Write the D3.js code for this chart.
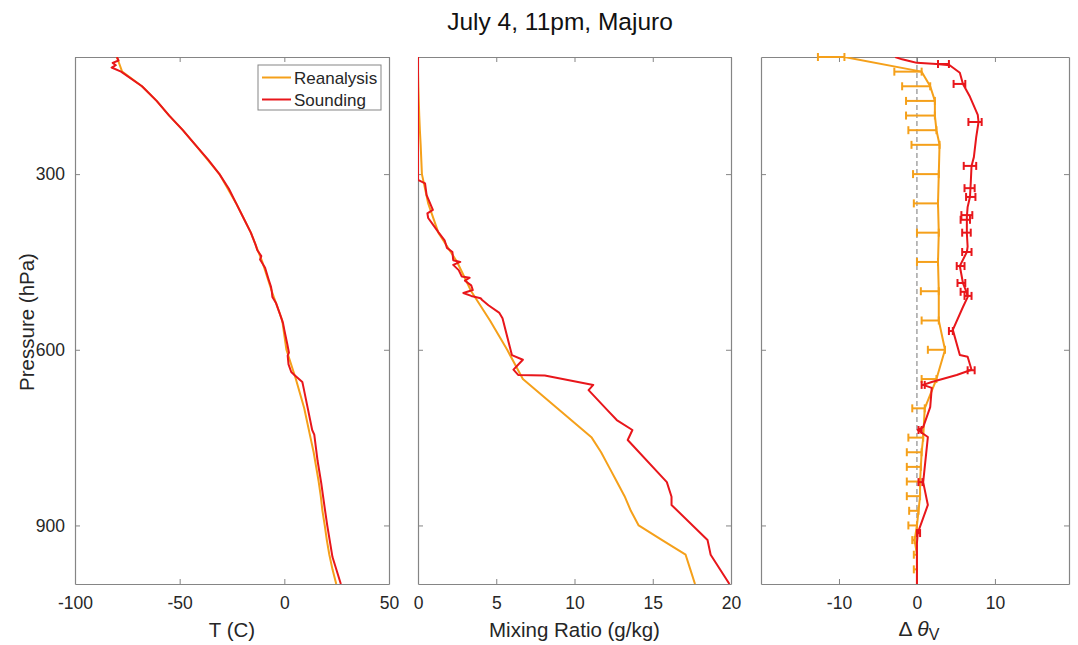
<!DOCTYPE html>
<html>
<head>
<meta charset="utf-8">
<script src="https://cdn.jsdelivr.net/npm/d3@7"></script>
<style>
  html, body { margin: 0; padding: 0; background: #fff; }
  svg { display: block; font-family: "Liberation Sans", Arial, Helvetica, sans-serif; }
</style>
</head>
<body>
<svg id="chart" width="1078" height="645"></svg>
<script>
// ---------------- DATA ----------------
const title = "July 4, 11pm, Majuro";
const seriesNames = ["Reanalysis", "Sounding"];

// Reanalysis pressure levels (hPa)
const levels = [100,125,150,175,200,225,250,300,350,400,450,500,550,600,650,700,750,775,800,825,850,875,900,925,950,975,1000];
// Reanalysis temperature (C)
const reanT = [-80,-77.5,-68,-61,-55,-48.5,-42.5,-31,-23,-16,-10.5,-6,-1,1,5.5,9.5,12.5,14,15.2,16.4,17.4,18.2,19.3,20.3,21.5,23,24.8];
// Reanalysis mixing ratio (g/kg)
const reanQ = [0,0,0.02,0.05,0.08,0.12,0.17,0.25,0.65,1.3,2.5,3.4,4.6,5.7,6.7,8.9,11.1,11.7,12.2,12.7,13.2,13.6,14.1,15.6,17.1,17.4,17.7];
// Reanalysis delta theta_v and lower end of its error bar
const reanD = [-9.3,0.6,1.7,2.3,2.3,2.5,2.9,2.8,2.7,2.8,2.7,2.8,2.8,3.6,2.5,1.0,0.8,0.6,0.5,0.4,0.4,0.2,0,-0.3,0,0,0];
const reanDLow = [-12.7,-2.9,-1.9,-1.4,-1.4,-1.1,-0.7,-0.5,-0.4,0.0,0.0,0.5,0.6,1.4,0.6,-0.6,-1.1,-1.3,-1.3,-1.3,-1.3,-1.0,-1.1,-0.6,-0.4,-0.4,0];

// Sounding temperature profile
const sndTP = [100,106,110,114,118,125,150,175,200,225,250,275,300,325,350,375,400,420,430,440,446,460,480,492,500,510,520,540,555,566,590,605,610,625,638,643,655,660,700,737,745,790,827,868,900,954,1000];
const sndT  = [-80,-79.2,-82,-80.5,-82.5,-78,-68,-61,-55,-48.5,-42.5,-36.5,-31,-26.5,-23,-19.5,-16,-13.8,-12.9,-11,-11.6,-9.2,-7.5,-6.4,-6.0,-5.7,-4,-2,-0.6,0,1.4,2.2,1.6,2.0,3.3,4.8,8.6,8.9,11.2,13.3,14.3,15.9,17.6,19.2,20.5,23,27];

// Sounding mixing ratio profile
const sndQP = [100,310,316,336,361,367,375,384,399,413,426,433,447,450,455,464,475,477,482,490,498,503,508,512,515,524,537,546,609,617,634,643,644,660,669,703,720,737,754,826,851,865,925,950,1000];
const sndQ  = [0,0,0.45,0.55,0.95,0.6,0.65,0.9,1.3,1.7,1.85,2.2,2.25,2.7,2.25,2.6,2.8,3.3,3.0,3.4,3.5,2.9,3.4,4.0,4.1,4.5,5.2,5.4,6.0,6.7,6.1,6.4,8.1,11.2,10.9,12.1,12.7,13.7,13.4,15.9,16.2,16.2,18.5,18.7,19.9];

// Sounding delta theta_v profile
const sndDP = [100,104,108,110,112,114,127,146,168,199,211,237,271,286,315,339,356,373,401,424,433,457,486,503,510,527,566,609,612,634,643,655,660,665,698,732,737,749,826,865,913,930,1000];
const sndD  = [-2.8,-1.9,-0.6,0,2.5,4.2,5.5,5.9,6.8,7.8,7.9,7.6,7.3,7.0,6.9,6.8,6.5,6.4,6.4,6.5,6.4,5.5,5.9,6.4,6.5,5.9,4.6,5.5,6.5,7.0,5.1,1.9,0.8,1.9,1.7,0.8,0.1,1.4,0.8,1.4,0.1,0,0];
// Sounding error bars (pressure, low, high)
const sndErrP  = [112,146,211,286,324,339,370,378,400,433,457,486,501,508,568,635,660,737,826,913];
const sndErrLo = [2.7,4.7,6.6,6.0,6.1,6.3,5.7,5.6,5.8,5.8,5.1,5.2,5.6,6.1,4.1,6.5,0.6,0.2,0.2,0.0];
const sndErrHi = [4.1,6.2,8.3,7.6,7.4,7.5,7.1,6.8,6.9,7.0,6.1,6.2,6.5,7.0,4.6,7.4,1.0,0.6,0.7,0.4];

// Axis settings
const pTicks = [300,600,900];
const tTicks = [-100,-50,0,50];
const qTicks = [0,5,10,15,20];
const dTicks = [-10,0,10];

// ---------------- DRAW ----------------
const colRean = "#F5A01A";
const colSnd = "#E8161B";
const axisCol = "#858585";
const textCol = "#262626";

const svg = d3.select("#chart");
const yTop = 57, yBot = 584;
const y = d3.scaleLinear().domain([100, 1000]).range([yTop, yBot]);

const panels = [
  { x0: 75,  x1: 389,  domain: [-100, 50], ticks: tTicks, label: "T (C)" },
  { x0: 418, x1: 731,  domain: [0, 20],    ticks: qTicks, label: "Mixing Ratio (g/kg)" },
  { x0: 761, x1: 1069, domain: [-20, 19.5], ticks: dTicks, label: null }
];
panels.forEach(p => p.x = d3.scaleLinear().domain(p.domain).range([p.x0, p.x1]));

svg.append("text")
  .attr("x", 560).attr("y", 30)
  .attr("text-anchor", "middle")
  .attr("font-size", 24.5).attr("fill", "#111")
  .text(title);

function styleAxis(g) {
  g.select(".domain").attr("stroke", axisCol).attr("stroke-width", 1.2);
  g.selectAll(".tick line").attr("stroke", axisCol).attr("stroke-width", 1);
  g.selectAll(".tick text").attr("fill", textCol).attr("font-size", 17.5)
    .attr("font-family", "Liberation Sans, Arial, sans-serif");
}

panels.forEach((p, i) => {
  const g = svg.append("g");
  g.append("g").attr("transform", `translate(0,${yBot})`)
    .call(d3.axisBottom(p.x).tickValues(p.ticks).tickSizeInner(-5).tickSizeOuter(0).tickPadding(13)
      .tickFormat(d3.format("d")))
    .call(styleAxis);
  g.append("g").attr("transform", `translate(0,${yTop})`)
    .call(d3.axisTop(p.x).tickValues(p.ticks).tickSizeInner(-5).tickSizeOuter(0).tickFormat(""))
    .call(styleAxis);
  g.append("g").attr("transform", `translate(${p.x0},0)`)
    .call(d3.axisLeft(y).tickValues(pTicks).tickSizeInner(-5).tickSizeOuter(0).tickPadding(10)
      .tickFormat(i === 0 ? d3.format("d") : ""))
    .call(styleAxis);
  g.append("g").attr("transform", `translate(${p.x1},0)`)
    .call(d3.axisRight(y).tickValues(pTicks).tickSizeInner(-5).tickSizeOuter(0).tickFormat(""))
    .call(styleAxis);
  g.selectAll(".tick text").text(function() { return this.textContent.replace("\u2212", "-"); });

  if (p.label) {
    svg.append("text").attr("x", (p.x0 + p.x1) / 2).attr("y", 637)
      .attr("text-anchor", "middle").attr("font-size", 20.5).attr("fill", textCol)
      .text(p.label);
  }
});

panels.forEach((p, i) => {
  svg.append("clipPath").attr("id", "clip" + i)
    .append("rect").attr("x", p.x0).attr("y", yTop).attr("width", p.x1 - p.x0).attr("height", yBot - yTop);
});

svg.append("text")
  .attr("transform", "translate(34,322) rotate(-90)")
  .attr("text-anchor", "middle").attr("font-size", 20.5).attr("fill", textCol)
  .text("Pressure (hPa)");

const dl = svg.append("text").attr("x", 919).attr("y", 636).attr("text-anchor", "middle")
  .attr("font-size", 21).attr("fill", textCol);
dl.append("tspan").text("\u0394 ");
dl.append("tspan").attr("font-style", "italic").text("\u03B8");
dl.append("tspan").attr("dy", 4).attr("font-size", 16).text("V");

function drawLine(panel, idx, xs, ps, color) {
  const line = d3.line().x(d => panel.x(d[0])).y(d => y(d[1]));
  svg.append("path")
    .datum(xs.map((v, k) => [v, ps[k]]))
    .attr("d", line)
    .attr("fill", "none").attr("stroke", color).attr("stroke-width", 2)
    .attr("stroke-linejoin", "round")
    .attr("clip-path", `url(#clip${idx})`);
}

drawLine(panels[0], 0, reanT, levels, colRean);
drawLine(panels[0], 0, sndT, sndTP, colSnd);

drawLine(panels[1], 1, reanQ, levels, colRean);
drawLine(panels[1], 1, sndQ, sndQP, colSnd);

const P3 = panels[2];
svg.append("line")
  .attr("x1", P3.x(0)).attr("x2", P3.x(0)).attr("y1", yTop).attr("y2", yBot)
  .attr("stroke", "#777").attr("stroke-width", 1).attr("stroke-dasharray", "5,3");

const capH = 4;
function errBars(ps, lo, hi, color, width) {
  const g = svg.append("g").attr("stroke", color).attr("stroke-width", width);
  ps.forEach((pp, k) => {
    if (lo[k] === hi[k]) return;
    const yy = y(pp);
    g.append("line").attr("x1", P3.x(lo[k])).attr("x2", P3.x(hi[k])).attr("y1", yy).attr("y2", yy);
    g.append("line").attr("x1", P3.x(lo[k])).attr("x2", P3.x(lo[k])).attr("y1", yy - capH).attr("y2", yy + capH);
    g.append("line").attr("x1", P3.x(hi[k])).attr("x2", P3.x(hi[k])).attr("y1", yy - capH).attr("y2", yy + capH);
  });
}
errBars(levels, reanDLow, reanD, colRean, 2);
drawLine(P3, 2, reanD, levels, colRean);
drawLine(P3, 2, sndD, sndDP, colSnd);
errBars(sndErrP, sndErrLo, sndErrHi, colSnd, 2);

const lg = svg.append("g");
lg.append("rect").attr("x", 258).attr("y", 65).attr("width", 123).attr("height", 45)
  .attr("fill", "#fff").attr("stroke", axisCol).attr("stroke-width", 1);
[colRean, colSnd].forEach((c, k) => {
  const yy = 77.5 + k * 22;
  lg.append("line").attr("x1", 262).attr("x2", 291).attr("y1", yy).attr("y2", yy)
    .attr("stroke", c).attr("stroke-width", 2);
  lg.append("text").attr("x", 294).attr("y", yy + 6).attr("font-size", 17).attr("fill", textCol)
    .text(seriesNames[k]);
});
</script>
</body>
</html>
